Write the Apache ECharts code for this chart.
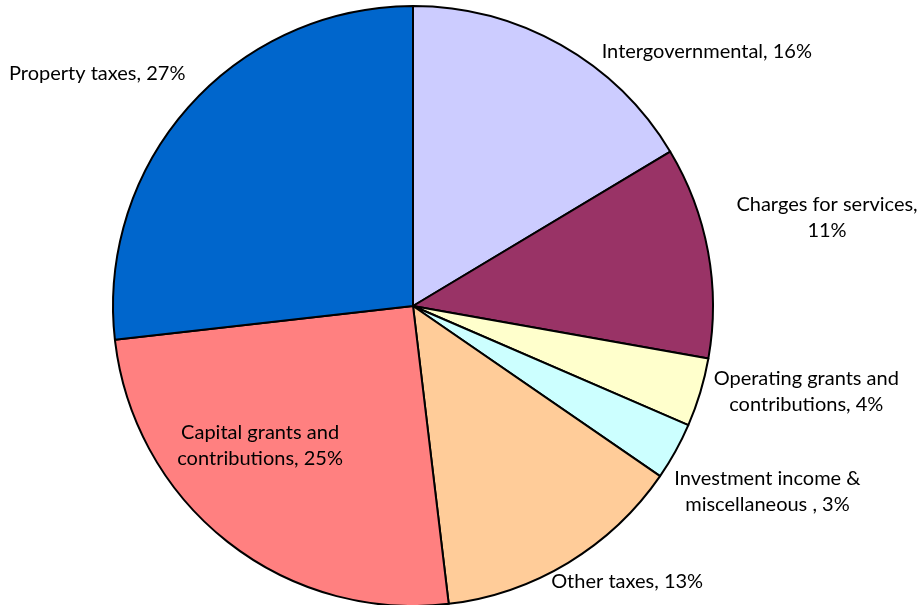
<!DOCTYPE html>
<html>
<head>
<meta charset="utf-8">
<script src="https://cdn.jsdelivr.net/npm/echarts@6/dist/echarts.min.js"></script>
<style>
  html, body { margin: 0; padding: 0; background: #fff; }
  #chart { width: 920px; height: 605px; }
</style>
</head>
<body>
<div id="chart"></div>
<script>
// revenue sources, clockwise from 12 o'clock
const categories = [
  'Intergovernmental',
  'Charges for services',
  'Operating grants and contributions',
  'Investment income & miscellaneous ',
  'Other taxes',
  'Capital grants and contributions',
  'Property taxes'
];
const shares = [16.4, 11.4, 3.7, 3.1, 13.5, 25.1, 26.8];
// label text as printed on the chart (rounded percentages)
const labelText = [
  'Intergovernmental, 16%',
  'Charges for services,\n11%',
  'Operating grants and\ncontributions, 4%',
  'Investment income &\nmiscellaneous , 3%',
  'Other taxes, 13%',
  'Capital grants and\ncontributions, 25%',
  'Property taxes, 27%'
];
const colors = ['#CCCCFF', '#993366', '#FFFFCC', '#CCFFFF', '#FFCC99', '#FF8080', '#0066CC'];

// label nudges (px) from the default anchor, Excel-style placement
const labelShift = [
  [146, 7],
  [119, -34],
  [106, -1],
  [92, 40],
  [59, 19],
  [-58, 20],
  [-92, -33]
];

const chart = echarts.init(document.getElementById('chart'));

chart.setOption({
  animation: false,
  textStyle: {
    fontFamily: 'Lato, "Open Sans", sans-serif'
  },
  series: [
    {
      type: 'pie',
      center: [413, 306],
      radius: 300,
      startAngle: 90,
      clockwise: true,
      avoidLabelOverlap: false,
      itemStyle: {
        borderColor: '#000',
        borderWidth: 2
      },
      label: {
        show: true,
        position: 'outside',
        color: '#000',
        fontSize: 20,
        lineHeight: 26,
        overflow: 'none',
        distanceToLabelLine: 0,
        formatter: (p) => labelText[p.dataIndex]
      },
      labelLine: {
        show: false,
        length: 0,
        length2: 0
      },
      labelLayout: (p) => ({
        align: 'center',
        verticalAlign: 'middle',
        dx: labelShift[p.dataIndex][0],
        dy: labelShift[p.dataIndex][1]
      }),
      emphasis: { disabled: true },
      data: categories.map((name, i) => ({
        name: name,
        value: shares[i],
        itemStyle: { color: colors[i] },
        label: i === 5 ? { position: 'inside' } : undefined
      }))
    }
  ]
});
</script>
</body>
</html>
